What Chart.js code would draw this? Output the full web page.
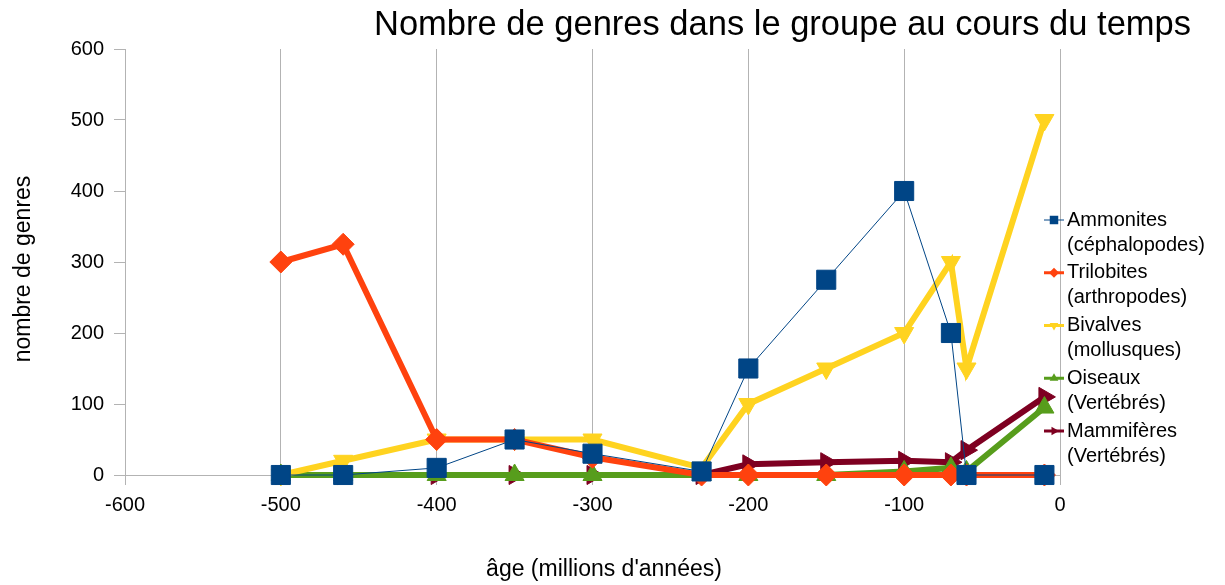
<!DOCTYPE html>
<html>
<head>
<meta charset="utf-8">
<script src="https://cdn.jsdelivr.net/npm/chart.js@4/dist/chart.umd.min.js"></script>
<style>
  html, body { margin: 0; padding: 0; background: #fff; }
  #wrap { width: 1225px; height: 585px; }
</style>
</head>
<body>
<div id="wrap"><canvas id="lineChart" width="1225" height="585"></canvas></div>
<script>
// ages in millions of years (negative = in the past)
const ages = [-500, -460, -400, -350, -300, -230, -200, -150, -100, -70, -60, -10];

const ammonites  = [0, 0, 10, 50, 30, 5, 150, 275, 400, 200, 0, 0];
const trilobites = [300, 325, 50, 50, 25, 0, 0, 0, 0, 0, 0, 0];
const bivalves   = [0, 20, 50, 50, 50, 10, 100, 150, 200, 300, 150, 500];
const oiseaux    = [0, 0, 0, 0, 0, 0, 0, 0, 5, 10, 5, 95];
const mammiferes = [0, 0, 0, 0, 0, 0, 15, 18, 20, 18, 35, 110];

const seriesNames = [
    ['Ammonites', '(céphalopodes)'],
    ['Trilobites', '(arthropodes)'],
    ['Bivalves', '(mollusques)'],
    ['Oiseaux', '(Vertébrés)'],
    ['Mammifères', '(Vertébrés)']
];

const titleText = 'Nombre de genres dans le groupe au cours du temps';
const xTitle = "âge (millions d'années)";
const yTitle = 'nombre de genres';

const FONT = '"Liberation Sans", Arial, sans-serif';
const GRID = '#b3b3b3';

function toPoints(values) {
    return values.map((v, i) => ({x: ages[i], y: v}));
}

const styles = [
    {color: '#004586', width: 1, point: 'rect', radius: 13.5, rotation: 0, legendRadius: 6},
    {color: '#ff420e', width: 6, point: 'rectRot', radius: 11, rotation: 0, legendRadius: 5},
    {color: '#ffd320', width: 6, point: 'triangle', radius: 11, rotation: 180, legendRadius: 5},
    {color: '#579d1c', width: 6, point: 'triangle', radius: 11, rotation: 0, legendRadius: 5},
    {color: '#7e0021', width: 6, point: 'triangle', radius: 11, rotation: 90, legendRadius: 5}
];

const allValues = [ammonites, trilobites, bivalves, oiseaux, mammiferes];

const dataSets = allValues.map((vals, i) => {
    const s = styles[i];
    return {
        label: seriesNames[i].join(' '),
        data: toPoints(vals),
        clip: false,
        borderColor: s.color,
        backgroundColor: s.color,
        borderWidth: s.width,
        fill: false,
        tension: 0,
        pointStyle: s.point,
        pointRadius: s.radius,
        pointRotation: s.rotation,
        pointBackgroundColor: s.color,
        pointBorderColor: s.color,
        pointBorderWidth: 1
    };
});

// title, axis titles and the legend are painted by hand
const decorPlugin = {
    id: 'decor',
    afterDraw(chart) {
        const ctx = chart.ctx;
        const area = chart.chartArea;
        ctx.save();
        ctx.fillStyle = '#000';

        ctx.font = '34.5px ' + FONT;
        ctx.textAlign = 'right';
        ctx.textBaseline = 'middle';
        ctx.fillText(titleText, 1191, 25);

        ctx.font = '23px ' + FONT;
        ctx.textAlign = 'center';
        ctx.fillText(xTitle, 604, 570);

        ctx.save();
        ctx.translate(24, 269);
        ctx.rotate(-Math.PI / 2);
        ctx.fillText(yTitle, 0, 0);
        ctx.restore();

        // legend
        const top = 220;
        const step = 52.75;
        const lineGap = 25;
        ctx.font = '20px ' + FONT;
        ctx.textAlign = 'left';
        seriesNames.forEach((lines, i) => {
            const s = styles[i];
            const y = top + i * step;
            ctx.strokeStyle = s.color;
            ctx.lineWidth = Math.min(s.width, 3);
            ctx.beginPath();
            ctx.moveTo(area.right - 16, y);
            ctx.lineTo(area.right + 4, y);
            ctx.stroke();
            ctx.fillStyle = s.color;
            Chart.helpers.drawPoint(ctx, {
                pointStyle: s.point,
                radius: s.legendRadius,
                rotation: s.rotation,
                borderWidth: 0
            }, area.right - 6, y);
            ctx.fillStyle = '#000';
            lines.forEach((t, k) => ctx.fillText(t, area.right + 7, y + k * lineGap));
        });
        ctx.restore();
    }
};

const chartOpt = {
    responsive: false,
    animation: false,
    layout: {padding: {top: 49, right: 165, left: 0, bottom: 0}},
    plugins: {
        legend: {display: false},
        title: {display: false},
        tooltip: {enabled: false}
    },
    scales: {
        x: {
            type: 'linear',
            min: -600,
            max: 0,
            afterFit(scale) { scale.height = 110; },
            ticks: {stepSize: 100, color: '#000', padding: 8, font: {family: FONT, size: 20}},
            grid: {color: GRID, tickLength: 10, lineWidth: 1},
            border: {color: GRID}
        },
        y: {
            min: 0,
            max: 600,
            afterFit(scale) { scale.width = 125; },
            ticks: {stepSize: 100, color: '#000', padding: 10, font: {family: FONT, size: 20}},
            grid: {color: GRID, tickLength: 11, drawOnChartArea: false},
            border: {color: GRID}
        }
    }
};

new Chart(document.getElementById('lineChart'), {
    type: 'line',
    data: {datasets: dataSets},
    options: chartOpt,
    plugins: [decorPlugin]
});
</script>
</body>
</html>
